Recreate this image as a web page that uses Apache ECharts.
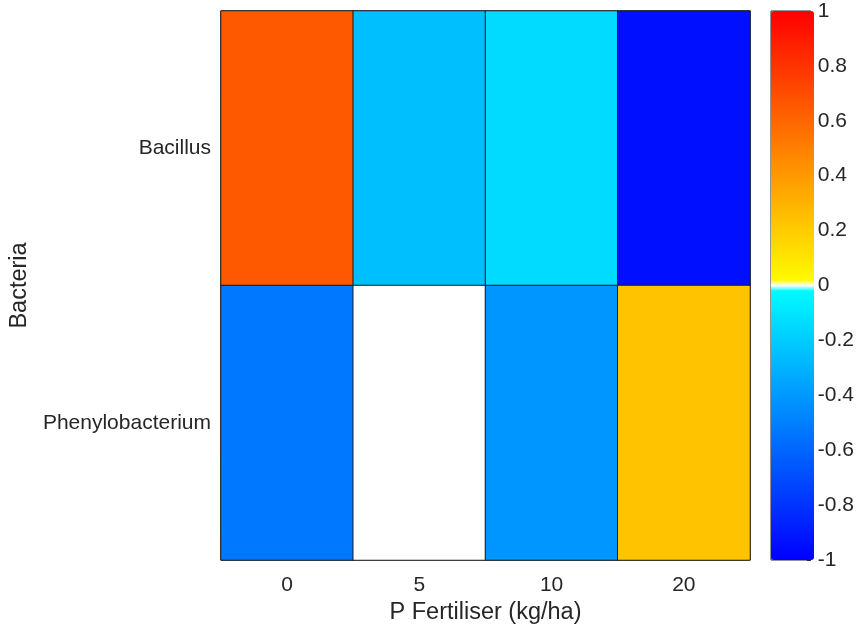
<!DOCTYPE html>
<html><head><meta charset="utf-8">
<script src="https://cdn.jsdelivr.net/npm/echarts@6/dist/echarts.min.js"></script>
<style>html,body{margin:0;padding:0;background:#fff}#c{width:857px;height:630px}</style>
</head><body><div id="c"></div>
<script>
const fertiliser = ['0', '5', '10', '20'];
const bacteria = ['Bacillus', 'Phenylobacterium'];
const bacillus = [0.65, -0.25, -0.14, -0.94];
const phenylobacterium = [-0.53, 0, -0.41, 0.235];
const colorbarTicks = [-1, -0.8, -0.6, -0.4, -0.2, 0, 0.2, 0.4, 0.6, 0.8, 1];

const rows = [bacillus, phenylobacterium];
const data = [];
rows.forEach((r, yi) => r.forEach((v, xi) => data.push([xi, yi, v])));

// colormap: blue->cyan for negatives, white at 0, yellow->red for positives
const N = 400;
const cmap = [];
for (let i = 0; i <= N; i++) {
  const v = -1 + i * 2 / N;
  let c;
  if (i === N / 2) c = 'rgb(255,255,255)';
  else if (v < 0) c = 'rgb(0,' + Math.round(255 * (1 + v)) + ',255)';
  else c = 'rgb(255,' + Math.round(255 * (1 - v)) + ',0)';
  cmap.push(c);
}

const font = 'Liberation Sans, Arial, Helvetica, sans-serif';
const txt = '#262626';
const chart = echarts.init(document.getElementById('c'));
chart.setOption({
  animation: false,
  backgroundColor: '#fff',
  grid: [
    {left: 220, top: 11, width: 530, height: 549, show: true, borderColor: txt, borderWidth: 1, backgroundColor: 'transparent'},
    {left: 771, top: 11, width: 43, height: 549, show: true, borderColor: txt, borderWidth: 1, backgroundColor: 'transparent'}
  ],
  xAxis: [
    {type: 'category', gridIndex: 0, data: fertiliser,
     name: 'P Fertiliser (kg/ha)', nameLocation: 'middle', nameGap: 41,
     nameTextStyle: {fontFamily: font, fontSize: 23.5, color: txt},
     axisLine: {show: false}, axisTick: {show: false}, splitLine: {show: false},
     axisLabel: {fontFamily: font, fontSize: 21, color: txt, margin: 15}},
    {type: 'value', gridIndex: 1, show: false, min: 0, max: 1}
  ],
  yAxis: [
    {type: 'category', gridIndex: 0, data: bacteria, inverse: true,
     name: 'Bacteria', nameLocation: 'middle', nameGap: 188,
     nameTextStyle: {fontFamily: font, fontSize: 23.5, color: txt},
     axisLine: {show: false}, axisTick: {show: false}, splitLine: {show: false},
     axisLabel: {fontFamily: font, fontSize: 21, color: txt, margin: 10}},
    {type: 'value', gridIndex: 1, position: 'right', min: -1, max: 1, interval: 0.2,
     axisLine: {show: false, onZero: false},
     axisTick: {show: true, inside: true, length: 4, lineStyle: {color: txt}},
     splitLine: {show: false},
     axisLabel: {fontFamily: font, fontSize: 21, color: txt, margin: 7,
       formatter: v => {
         const r = Math.round(v * 10) / 10;
         return colorbarTicks.indexOf(r) >= 0 ? String(r) : '';
       }}}
  ],
  visualMap: {
    type: 'continuous', min: -1, max: 1, seriesIndex: 0,
    calculable: false, hoverLink: false, orient: 'vertical',
    left: 771, top: 11, itemWidth: 43, itemHeight: 549, padding: 0,
    text: null, showLabel: false,
    inRange: {color: cmap}
  },
  series: [
    {type: 'heatmap', xAxisIndex: 0, yAxisIndex: 0, data: data,
     itemStyle: {borderColor: '#1a1a1a', borderWidth: 1},
     emphasis: {disabled: true}}
  ]
});
</script>
</body></html>
